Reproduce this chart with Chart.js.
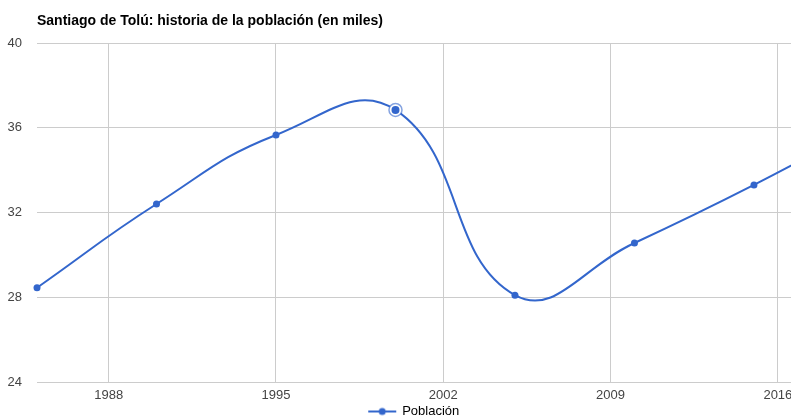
<!DOCTYPE html>
<html>
<head>
<meta charset="utf-8">
<script src="https://cdn.jsdelivr.net/npm/chart.js@4/dist/chart.umd.min.js"></script>
<style>
  html, body { margin: 0; padding: 0; background: #fff; }
  #wrap { width: 791px; height: 418px; }
</style>
</head>
<body>
<div id="wrap"><canvas id="chart" width="791" height="418"></canvas></div>
<script>
// datos (en miles de habitantes)
const anios = [1985, 1990, 1995, 2000, 2005, 2010, 2015, 2020];
const poblacion = [28.45, 32.4, 35.66, 36.84, 28.1, 30.56, 33.3, 36.3];
const ticksX = [1988, 1995, 2002, 2009, 2016];
const ticksY = [24, 28, 32, 36, 40];
const destacado = 3; // punto resaltado (2000)

const azul = '#3366cc';
const fuente = '"Liberation Sans", Arial, sans-serif';

// icono de la leyenda: linea con punto
const icono = document.createElement('canvas');
icono.width = 30; icono.height = 10;
(function () {
    const c = icono.getContext('2d');
    c.strokeStyle = azul; c.lineWidth = 2;
    c.beginPath(); c.moveTo(1, 5); c.lineTo(29, 5); c.stroke();
    c.fillStyle = azul;
    c.beginPath(); c.arc(15, 5, 3.5, 0, Math.PI * 2); c.fill();
})();

// anillo alrededor del punto resaltado
const anillo = {
    id: 'anillo',
    afterDatasetsDraw(chart) {
        const p = chart.getDatasetMeta(0).data[destacado];
        if (!p) return;
        const c = chart.ctx;
        c.save();
        c.fillStyle = '#fff';
        c.beginPath(); c.arc(p.x, p.y, 6.5, 0, Math.PI * 2); c.fill();
        c.strokeStyle = 'rgba(51,102,204,0.6)'; c.lineWidth = 1.5;
        c.stroke();
        c.fillStyle = azul;
        c.beginPath(); c.arc(p.x, p.y, 4, 0, Math.PI * 2); c.fill();
        c.restore();
    }
};

const ctx = document.getElementById('chart').getContext('2d');
new Chart(ctx, {
    type: 'line',
    data: {
        datasets: [{
            label: 'Población',
            data: anios.map((a, i) => ({ x: a, y: poblacion[i] })),
            borderColor: azul,
            backgroundColor: azul,
            borderWidth: 2,
            pointRadius: 3.5,
            pointHoverRadius: 3.5,
            pointBorderWidth: 0,
            tension: 0.45,
            clip: { left: 6, top: 6, right: 0, bottom: 6 }
        }]
    },
    options: {
        responsive: false,
        animation: false,
        events: [],
        layout: { autoPadding: false, padding: { left: 0, top: 0, right: 0, bottom: -10 } },
        scales: {
            x: {
                type: 'linear',
                min: 1985,
                max: 2016.55,
                afterBuildTicks: s => { s.ticks = ticksX.map(v => ({ value: v })); },
                afterFit: s => { s.height = 23; s.paddingLeft = 0; s.paddingRight = 0; },
                grid: { color: '#cccccc', drawTicks: false },
                border: { display: false },
                ticks: {
                    padding: 6,
                    color: '#444',
                    font: { family: fuente, size: 13 },
                    callback: v => String(v)
                }
            },
            y: {
                min: 24,
                max: 40,
                afterBuildTicks: s => { s.ticks = ticksY.map(v => ({ value: v })); },
                afterFit: s => { s.width = 37; },
                grid: { color: '#cccccc', drawTicks: false },
                border: { display: false },
                ticks: {
                    padding: 15,
                    color: '#444',
                    font: { family: fuente, size: 13 }
                }
            }
        },
        plugins: {
            title: {
                display: true,
                text: 'Santiago de Tolú: historia de la población (en miles)',
                align: 'start',
                fullSize: false,
                color: '#000',
                font: { family: fuente, size: 14, weight: 'bold', lineHeight: 1.2 },
                padding: { top: 13, bottom: 13.2 }
            },
            legend: {
                position: 'bottom',
                fullSize: false,
                labels: {
                    color: '#222',
                    font: { family: fuente, size: 13 },
                    usePointStyle: true,
                    pointStyleWidth: 27,
                    padding: 0,
                    generateLabels: () => [{
                        text: 'Población',
                        pointStyle: icono,
                        fillStyle: azul,
                        strokeStyle: azul,
                        lineWidth: 0,
                        datasetIndex: 0
                    }]
                }
            },
            tooltip: { enabled: false }
        }
    },
    plugins: [anillo]
});
</script>
</body>
</html>
